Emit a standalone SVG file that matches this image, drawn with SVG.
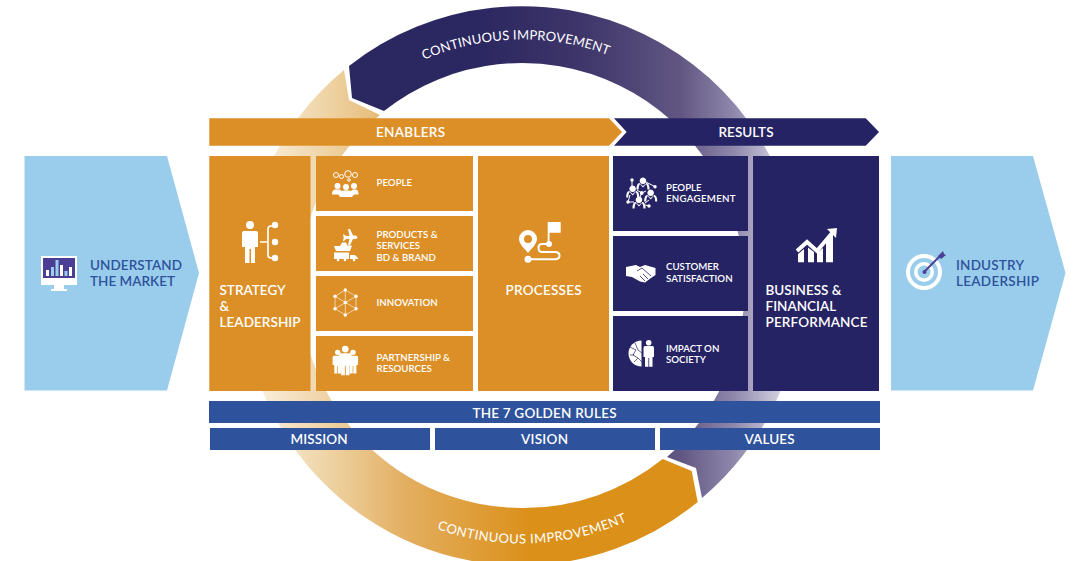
<svg xmlns="http://www.w3.org/2000/svg" width="1079" height="561" viewBox="0 0 1079 561">
<style>
text{font-family:"Lato","Noto Sans","Liberation Sans",sans-serif;font-weight:600;fill:#fff}
.o{fill:#DC8F26}.n{fill:#262364}.b{fill:#2E529B}.l{fill:#9ACDEC}
.dk{fill:#2E529B}
.s{font-size:9.7px}.m{font-size:13.5px}.h{font-size:13.5px}.arc{font-size:13px;font-weight:400;letter-spacing:.15px}.arc2{letter-spacing:.45px}
.i{fill:#fff;stroke:none}.ln{fill:none;stroke:#fff}
</style>
<defs>
<linearGradient id="gn" gradientUnits="userSpaceOnUse" x1="480" y1="0" x2="790" y2="0">
<stop offset="0" stop-color="#2B2760"/><stop offset=".35" stop-color="#40376B"/><stop offset=".65" stop-color="#625783"/><stop offset=".82" stop-color="#8F88AC"/><stop offset="1" stop-color="#E0DEEA"/>
</linearGradient>
<linearGradient id="go" gradientUnits="userSpaceOnUse" x1="255" y1="0" x2="530" y2="0">
<stop offset="0" stop-color="#FAF0E0"/><stop offset=".3" stop-color="#EDCF9C"/><stop offset=".55" stop-color="#E3AE60"/><stop offset="1" stop-color="#DB9019"/>
</linearGradient>
<g id="pers"><circle cx="0" cy="-9" r="3.2"/><path d="M-4.500-5H4.500Q6-5 6-3V6H4V16H.4V7H-.4V16H-4V6H-6V-3Q-6-5-4.500-5Z"/></g>
<path id="bust" d="M0-6.500A3.300,3.300 0 1 1 -.1-6.500ZM-6.500,5.500Q-6.500-1 -3.500-1L0,2L3.500-1Q6.500-1 6.500,5.500H4.500Q4.500,1.500 3-.0L0,3.500L-3,0Q-4.500,1.500 -4.500,5.500Z"/>
</defs>
<g id="connectors">
<path id="arc-improve-top" fill="url(#gn)" d="M349,66A280,280 0 0 1 802,285.500A280,280 0 0 1 702,498L696,468L667,457A222.500,222.500 0 0 0 744.500,285.500A222.500,222.500 0 0 0 384,111L352,98Z"/>
<path id="arc-improve-bottom" fill="url(#go)" d="M697.700,502A280,280 0 0 1 522,565.500A280,280 0 0 1 242,285.500A280,280 0 0 1 344,70L349,100L380,115A222.500,222.500 0 0 0 299.500,285.500A222.500,222.500 0 0 0 522,508A222.500,222.500 0 0 0 662.700,459L691.700,471Z"/>
<path id="pt" fill="none" d="M372,90.500A246,246 0 0 1 672,90.500"/>
<path id="pb" fill="none" d="M372,495.400A258,258 0 0 0 672,495.400"/>
<text class="arc"><textPath href="#pt" startOffset="155" text-anchor="middle">CONTINUOUS IMPROVEMENT</textPath></text>
<text class="arc arc2"><textPath href="#pb" startOffset="171" text-anchor="middle">CONTINUOUS IMPROVEMENT</textPath></text>
</g>
<g id="understand-market">
<path class="l" d="M24.500,156H167L199,273L167,390.500H24.500Z"/>
<rect x="41" y="256" width="36" height="29" fill="#fff"/><rect x="43" y="258" width="32" height="20" fill="#4A3F94"/>
<path d="M54,285H64V289H67V291H51V289H54Z" fill="#fff"/>
<rect x="46" y="270" width="3" height="6" fill="#fff"/><rect x="51" y="267" width="3" height="9" fill="#9ACDEC"/><rect x="55.500" y="260" width="3" height="16" fill="#9ACDEC"/><rect x="60" y="265" width="3" height="11" fill="#fff"/><rect x="64.500" y="271" width="3" height="5" fill="#9ACDEC"/><rect x="69" y="267" width="3" height="9" fill="#fff"/>
<text class="h dk" x="90" y="270" textLength="92">UNDERSTAND</text><text class="h dk" x="90" y="286" textLength="85">THE MARKET</text>
</g>
<g id="enablers-bar"><path class="o" d="M209.300,118.300H609L622,132L609,145.700H209.300Z"/><text class="m" x="410.500" y="137" text-anchor="middle" textLength="69">ENABLERS</text></g>
<g id="results-bar"><path class="n" d="M614,118.300H865.700L879,132L865.700,145.700H614L626.700,132Z"/><text class="m" x="746" y="137" text-anchor="middle" textLength="55">RESULTS</text></g>
<g id="strategy"><rect class="o" x="209.300" y="156" width="101.200" height="235"/>
<circle class="i" cx="250" cy="225" r="4"/><path class="i" d="M244,231H256Q258,231 258,233V247H255V263H251V249H249.500V263H245V247H242V233Q242,231 244,231Z"/>
<path class="ln" stroke-width="1.700" d="M260,242H268M274,226H271Q268,226 268,229V255Q268,258 271,258H274"/><circle class="i" cx="275" cy="225" r="3.200"/><circle class="i" cx="275" cy="242" r="3.200"/><circle class="i" cx="275" cy="258" r="3.200"/>
<text class="m" x="219.500" y="295">STRATEGY</text><text class="m" x="219.500" y="311">&amp;</text><text class="m" x="219.500" y="327" textLength="81">LEADERSHIP</text></g>
<g id="people"><rect class="o" x="316" y="156" width="157" height="55"/>
<g class="ln" stroke-width="1"><circle cx="336" cy="175" r="2.500"/><circle cx="341.500" cy="176.500" r="2"/><circle cx="348" cy="174" r="3.300"/><circle cx="355" cy="175" r="2.500"/><circle cx="349" cy="180" r="1.300"/></g>
<g class="i"><circle cx="337.500" cy="186" r="3"/><circle cx="346" cy="187" r="3"/><circle cx="354" cy="186" r="3"/><path d="M332,194.500Q332,190 335,189.500L340,189.500Q341,190.500 341.500,191Q346,189.500 351,191Q352,190 353,189.500L356,189.500Q358.500,190 358.500,194.500H354L352,197H340L338.500,194.500Z"/></g>
<text class="s" x="376.500" y="186">PEOPLE</text></g>
<g id="products"><rect class="o" x="316" y="216" width="157" height="55"/>
<g class="i"><path d="M348,229H350L353,235.500H355.500Q357.500,236.500 357.500,237.500Q357.500,238.500 355.500,239H353L350,245H348L349.500,239H346L344,241H343L343.700,237.500L343,234.500H344L346,236H349.500Z"/><path d="M334,246L340,246L342,242.500H346L347.500,245.500H352L350,251H336Z"/><path d="M334,252.500H349V259H334ZM350,255H355L358,258V259H350Z"/><circle cx="338" cy="260" r="1.300"/><circle cx="345" cy="260" r="1.300"/><circle cx="354" cy="260" r="1.300"/></g>
<text class="s" x="376.500" y="238">PRODUCTS &amp;</text><text class="s" x="376.500" y="249">SERVICES</text><text class="s" x="376.500" y="261">BD &amp; BRAND</text></g>
<g id="innovation"><rect class="o" x="316" y="276" width="157" height="55"/>
<path fill="none" stroke="#fff" stroke-width=".6" d="M345.300,290L356,296.300V308.700L345.300,315L335,308.700V296.300ZM345.300,290V315M335,296.300L356,308.700M356,296.300L335,308.700"/>
<g class="i"><circle cx="345.300" cy="290" r="1.700"/><circle cx="356" cy="296.300" r="1.700"/><circle cx="356" cy="308.700" r="1.700"/><circle cx="345.300" cy="315" r="1.700"/><circle cx="335" cy="308.700" r="1.700"/><circle cx="335" cy="296.300" r="1.700"/><circle cx="345.300" cy="302.500" r="1.700"/></g>
<text class="s" x="376.500" y="306">INNOVATION</text></g>
<g id="partnership"><rect class="o" x="316" y="336" width="157" height="55"/>
<g class="i"><use href="#pers" transform="translate(337.700,360) scale(.85)"/><use href="#pers" transform="translate(353,360) scale(.85)"/><use href="#pers" transform="translate(345.300,358.500) scale(1.050)"/></g>
<text class="s" x="376.500" y="361">PARTNERSHIP &amp;</text><text class="s" x="376.500" y="372">RESOURCES</text></g>
<g id="processes"><rect class="o" x="478" y="156" width="131" height="235"/>
<path class="i" fill-rule="evenodd" d="M528,230A9,9 0 0 1 537,239C537,244 531,249 528,253C525,249 519,244 519,239A9,9 0 0 1 528,230ZM528,235A4,4 0 1 0 528,243A4,4 0 0 0 528,235Z"/>
<path class="i" d="M547.700,222H560.700V232.700H549.500V244H547.700Z"/>
<path class="ln" stroke-width="2" d="M549,244H542Q538.500,244 538.500,248Q538.500,252 542,252H555Q559.500,252 559.500,255.500Q559.500,259.300 555,259.300H528"/><circle class="i" cx="549" cy="244" r="3"/><circle class="i" cx="528" cy="259.300" r="3.500"/>
<text class="m" x="543.500" y="295" text-anchor="middle" textLength="76">PROCESSES</text></g>
<g id="people-engagement"><rect class="n" x="613" y="156" width="135" height="75"/>
<path class="ln" stroke-width="1" d="M632,180V187M646,182L655,186.700M637,190L641.700,193L646,191M641.700,193L640,197M630,195L628,202H634M649,200L645,203M650,206L645,205"/>
<g class="i"><circle cx="632" cy="180" r="1.700"/><circle cx="655" cy="186.700" r="1.700"/><circle cx="628" cy="202" r="1.700"/><circle cx="649" cy="206" r="1.700"/><circle cx="641.700" cy="193" r="1.900"/></g>
<g class="i"><use href="#bust" transform="translate(643,184)"/><use href="#bust" transform="translate(632.700,192)"/><use href="#bust" transform="translate(650.700,196)"/><use href="#bust" transform="translate(639,203)"/></g>
<text class="s" x="666" y="191">PEOPLE</text><text class="s" x="666" y="202" textLength="69.500">ENGAGEMENT</text></g>
<g id="customer-satisfaction"><rect class="n" x="613" y="236" width="135" height="75"/>
<path class="i" d="M626,267L636,265L640,267L645,265L655.500,268V275L651,278L645,282.500L640,281.500L632,277L626,276Z"/>
<path fill="none" stroke="#262364" stroke-width=".8" d="M637,271L642,268L651,276M640,276L645,281M643,274L648,279"/>
<text class="s" x="666" y="270">CUSTOMER</text><text class="s" x="666" y="282">SATISFACTION</text></g>
<g id="impact-society"><rect class="n" x="613" y="316" width="135" height="75"/>
<path class="i" d="M641.500,340.500A13,13 0 0 0 641.500,366.500Z"/><path fill="none" stroke="#262364" stroke-width=".7" d="M630,347L636,350L633,355L638,358L634,362M635,343L638,350L642,353M630,355H634M638,358L642,362"/>
<circle class="i" cx="648.700" cy="342.700" r="2.800"/><path class="i" d="M645,346H652.500Q654,346 654,348V357H652.500V366.700H649.200V358H648.400V366.700H645V357H643.500V348Q643.500,346 645,346Z"/>
<text class="s" x="666" y="352">IMPACT ON</text><text class="s" x="666" y="363">SOCIETY</text></g>
<g id="business"><rect class="n" x="753" y="156" width="126" height="235"/>
<g class="i"><path d="M798,254L804,249V262.300H798ZM808,247.500L814,252V262.300H808ZM817,253L823,248V262.300H817ZM826,240L833,234V262.300H826Z"/></g>
<path class="ln" stroke-width="4" d="M797,251L807,242L817,251L833,232"/><path class="i" d="M827,229L837,228L836,238Z"/>
<text class="m" x="765.500" y="295">BUSINESS &amp;</text><text class="m" x="765.500" y="311">FINANCIAL</text><text class="m" x="765.500" y="327" textLength="102">PERFORMANCE</text></g>
<g id="industry-leadership">
<path class="l" d="M891,156H1033L1065.500,273L1033,390.500H891Z"/>
<circle cx="924" cy="272" r="18" fill="#fff"/><circle cx="924" cy="272" r="14" fill="#9ACDEC"/><circle cx="924" cy="272" r="10" fill="#fff"/><circle cx="924" cy="272" r="6.500" fill="#9ACDEC"/>
<path d="M924,272L941,255" stroke="#4A3F94" stroke-width="2"/><circle cx="924.500" cy="272" r="2" fill="#4A3F94"/><path d="M938,256L943,251L944,254L946,255L941,259Z" fill="#4A3F94"/>
<text class="h dk" x="956" y="270" textLength="68">INDUSTRY</text><text class="h dk" x="956" y="286" textLength="83">LEADERSHIP</text>
</g>
<g id="golden-rules"><rect class="b" x="209" y="401" width="671" height="22"/><text class="m" x="544.500" y="418" text-anchor="middle" textLength="144">THE 7 GOLDEN RULES</text></g>
<g id="mission"><rect class="b" x="210" y="428" width="220" height="22"/><text class="m" x="319" y="444" text-anchor="middle" textLength="57">MISSION</text></g>
<g id="vision"><rect class="b" x="435" y="428" width="220" height="22"/><text class="m" x="544.500" y="444" text-anchor="middle" textLength="47">VISION</text></g>
<g id="values"><rect class="b" x="660" y="428" width="220" height="22"/><text class="m" x="769.500" y="444" text-anchor="middle" textLength="50">VALUES</text></g>
</svg>
